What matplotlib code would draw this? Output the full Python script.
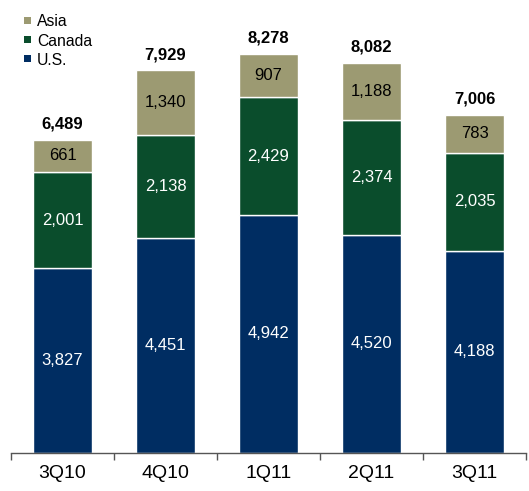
import matplotlib
matplotlib.use("Agg")
import matplotlib.pyplot as plt
from matplotlib.patches import Rectangle
import numpy as np

quarters = ["3Q10", "4Q10", "1Q11", "2Q11", "3Q11"]
us = [3827, 4451, 4942, 4520, 4188]
canada = [2001, 2138, 2429, 2374, 2035]
asia = [661, 1340, 907, 1188, 783]
totals = [6489, 7929, 8278, 8082, 7006]

c_us = "#002D62"
c_ca = "#0A4D2C"
c_as = "#9C9A72"

plt.rcParams["font.family"] = ["Liberation Sans", "DejaVu Sans"]

W, H = 529, 491
fig = plt.figure(figsize=(W / 100, H / 100), dpi=100)
ax = fig.add_axes([11 / W, (H - 453) / H, (526 - 11) / W, (453 - 10) / H])

x = np.arange(len(quarters))
bw = 0.575
us_a = np.array(us)
ca_a = np.array(canada)
as_a = np.array(asia)

kw = dict(width=bw, edgecolor="white", linewidth=1.0, zorder=2)
ax.bar(x, us_a, color=c_us, **kw)
ax.bar(x, ca_a, bottom=us_a, color=c_ca, **kw)
ax.bar(x, as_a, bottom=us_a + ca_a, color=c_as, **kw)

for i in range(len(x)):
    ax.text(x[i], us_a[i] / 2, f"{us[i]:,}", ha="center", va="center",
            color="white", fontsize=12)
    ax.text(x[i], us_a[i] + ca_a[i] / 2, f"{canada[i]:,}", ha="center",
            va="center", color="white", fontsize=12)
    ax.text(x[i], us_a[i] + ca_a[i] + as_a[i] / 2, f"{asia[i]:,}",
            ha="center", va="center", color="black", fontsize=12)
    ax.annotate(f"{totals[i]:,}", (x[i], totals[i]), xytext=(0, 6),
                textcoords="offset points", ha="center", va="bottom",
                fontsize=12, fontweight="bold", color="black")

ax.set_xlim(-0.5, 4.5)
ax.set_ylim(0, 9183)
for s in ["top", "right", "left"]:
    ax.spines[s].set_visible(False)
ax.spines["bottom"].set_color("#555555")
ax.spines["bottom"].set_linewidth(1.0)
ax.set_yticks([])
ax.set_xticks(x)
ax.set_xticklabels(quarters, fontsize=14)
ax.tick_params(axis="x", which="major", length=0, pad=9)
ax.set_xticks(np.arange(-0.5, 5.0, 1.0), minor=True)
ax.tick_params(axis="x", which="minor", length=5, width=1.0,
               color="#555555", direction="out")

# legend drawn as small squares with labels, top-left
legend_items = [("Asia", c_as), ("Canada", c_ca), ("U.S.", c_us)]
for k, (name, col) in enumerate(legend_items):
    yc = 20.5 + k * 19
    fig.add_artist(Rectangle((24 / W, 1 - (yc + 3.5) / H), 7 / W, 7 / H,
                             transform=fig.transFigure, facecolor=col,
                             edgecolor="none"))
    fig.text(37 / W, 1 - yc / H, name, ha="left", va="center_baseline",
             fontsize=11.3, color="black")

fig.savefig("out.png", dpi=100)
